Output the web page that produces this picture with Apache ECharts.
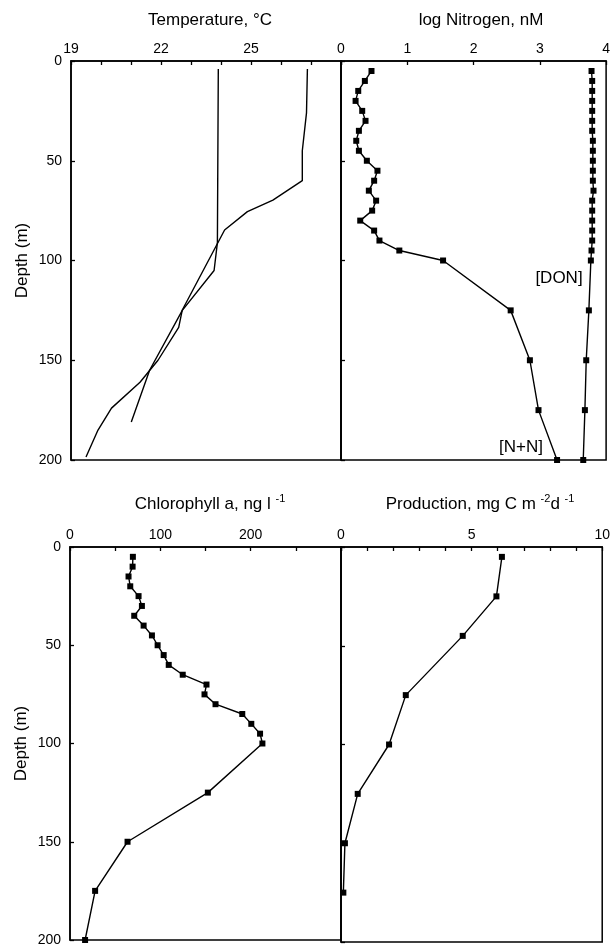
<!DOCTYPE html>
<html>
<head>
<meta charset="utf-8">
<script src="https://cdn.jsdelivr.net/npm/echarts@6/dist/echarts.min.js"></script>
<style>
  html, body { margin: 0; padding: 0; background: #fff; }
  #chart { width: 613px; height: 947px; }
</style>
</head>
<body>
<div id="chart"></div>
<script>
// temperature profiles (two casts), depth in m
var tempDepthA = [4, 91, 105, 125, 155, 181];
var tempA = [23.91, 23.88, 23.77, 22.71, 21.62, 21.01];
var tempDepthB = [4, 26, 45, 60, 69.7, 75.5, 84.7, 124.8, 133.5, 150, 161, 174, 185, 198.5];
var tempB = [26.88, 26.85, 26.71, 26.71, 25.73, 24.88, 24.12, 22.71, 22.59, 21.9, 21.3, 20.35, 19.9, 19.5];

// log nitrogen, nM
var nDepth = [5, 10, 15, 20, 25, 30, 35, 40, 45, 50, 55, 60, 65, 70, 75, 80, 85, 90, 95, 100, 125, 150, 175, 200];
var nnValues = [0.46, 0.36, 0.26, 0.22, 0.32, 0.37, 0.27, 0.23, 0.27, 0.39, 0.55, 0.50, 0.42, 0.53, 0.47, 0.29, 0.50, 0.58, 0.88, 1.54, 2.56, 2.85, 2.98, 3.26];
var donValues = [3.78, 3.79, 3.79, 3.79, 3.79, 3.79, 3.79, 3.80, 3.80, 3.80, 3.80, 3.80, 3.81, 3.79, 3.79, 3.79, 3.79, 3.79, 3.78, 3.77, 3.74, 3.70, 3.68, 3.655];

// chlorophyll a, ng/l
var chlDepth = [5, 10, 15, 20, 25, 30, 35, 40, 45, 50, 55, 60, 65, 70, 75, 80, 85, 90, 95, 100, 125, 150, 175, 200];
var chlValues = [69.6, 69.3, 64.8, 66.7, 75.9, 79.6, 71.1, 81.5, 90.7, 97, 103.7, 109.3, 124.8, 151.1, 148.9, 161.1, 190.7, 200.7, 210.4, 213, 152.6, 63.7, 27.8, 16.7];

// production, mg C m-2 d-1
var prodDepth = [5, 25, 45, 75, 100, 125, 150, 175];
var prodValues = [6.16, 5.95, 4.66, 2.48, 1.84, 0.64, 0.15, 0.09];

var FONT = '"Liberation Sans", Arial, Helvetica, sans-serif';

function pairs(xs, ds) {
  return xs.map(function (v, i) { return [v, ds[i]]; });
}

function xAx(idx, min, max, interval, minor) {
  return {
    gridIndex: idx,
    type: 'value',
    position: 'top',
    min: min,
    max: max,
    interval: interval,
    axisLine: { show: true, lineStyle: { color: '#000', width: 1.5 } },
    axisTick: { show: true, inside: true, length: 4, lineStyle: { color: '#000', width: 1.3 } },
    minorTick: { show: minor > 0, splitNumber: minor || 5, length: 4, lineStyle: { color: '#000', width: 1.3 } },
    axisLabel: { color: '#000', fontSize: 14, fontFamily: FONT, margin: 5, showMaxLabel: idx % 2 === 1 },
    splitLine: { show: false }
  };
}

function yAx(idx, labels) {
  return {
    gridIndex: idx,
    type: 'value',
    inverse: true,
    min: 0,
    max: 200,
    interval: 50,
    name: labels ? 'Depth (m)' : '',
    nameLocation: 'middle',
    nameRotate: 90,
    nameGap: 40,
    nameTextStyle: { color: '#000', fontSize: 17, fontFamily: FONT },
    axisLine: { show: true, lineStyle: { color: '#000', width: 1.5 } },
    axisTick: { show: true, inside: true, length: 4, lineStyle: { color: '#000', width: 1.3 } },
    axisLabel: { show: labels, color: '#000', fontSize: 14, fontFamily: FONT, margin: 9 },
    splitLine: { show: false }
  };
}

function grid(left, top, width, height) {
  return { left: left, top: top, width: width, height: height, show: true, borderColor: '#000', borderWidth: 1.5, containLabel: false };
}

function line(idx, data, marks) {
  return {
    type: 'line',
    xAxisIndex: idx,
    yAxisIndex: idx,
    data: data,
    symbol: marks ? 'rect' : 'none',
    symbolSize: 6,
    showAllSymbol: true,
    lineStyle: { color: '#000', width: 1.4 },
    itemStyle: { color: '#000' },
    silent: true
  };
}

var titleStyle = {
  color: '#000',
  fontSize: 17,
  fontWeight: 'normal',
  fontFamily: FONT,
  rich: {
    n: { fontSize: 17, fontFamily: FONT, color: '#000', lineHeight: 22 },
    s: { fontSize: 11, fontFamily: FONT, color: '#000', lineHeight: 12, verticalAlign: 'top' }
  }
};

var chart = echarts.init(document.getElementById('chart'), null, { renderer: 'canvas' });
chart.setOption({
  animation: false,
  backgroundColor: '#fff',
  title: [
    { text: '{n|Temperature, °C}', left: 205, top: 4, textAlign: 'center', textStyle: titleStyle },
    { text: '{n|log Nitrogen, nM}', left: 476, top: 4, textAlign: 'center', textStyle: titleStyle },
    { text: '{n|Chlorophyll a, ng l }{s|-1}', left: 205, top: 488, textAlign: 'center', textStyle: titleStyle },
    { text: '{n|Production, mg C m }{s|-2}{n|d }{s|-1}', left: 475, top: 488, textAlign: 'center', textStyle: titleStyle }
  ],
  grid: [
    grid(71, 61, 270, 399),
    grid(341, 61, 271, 399),
    grid(70, 547, 271, 395),
    grid(341, 547, 271, 395)
  ],
  xAxis: [
    xAx(0, 19, 28, 3, 3),
    xAx(1, 0, 4, 1, 0),
    xAx(2, 0, 300, 100, 2),
    xAx(3, 0, 10, 5, 5)
  ],
  yAxis: [yAx(0, true), yAx(1, false), yAx(2, true), yAx(3, false)],
  graphic: [
    { type: 'text', x: 559, y: 278, style: { text: '[DON]', font: '17px ' + FONT, fill: '#000', align: 'center', verticalAlign: 'middle' } },
    { type: 'text', x: 521, y: 447, style: { text: '[N+N]', font: '17px ' + FONT, fill: '#000', align: 'center', verticalAlign: 'middle' } }
  ],
  series: [
    line(0, pairs(tempA, tempDepthA), false),
    line(0, pairs(tempB, tempDepthB), false),
    line(1, pairs(nnValues, nDepth), true),
    line(1, pairs(donValues, nDepth), true),
    line(2, pairs(chlValues, chlDepth), true),
    line(3, pairs(prodValues, prodDepth), true)
  ]
});
</script>
</body>
</html>
